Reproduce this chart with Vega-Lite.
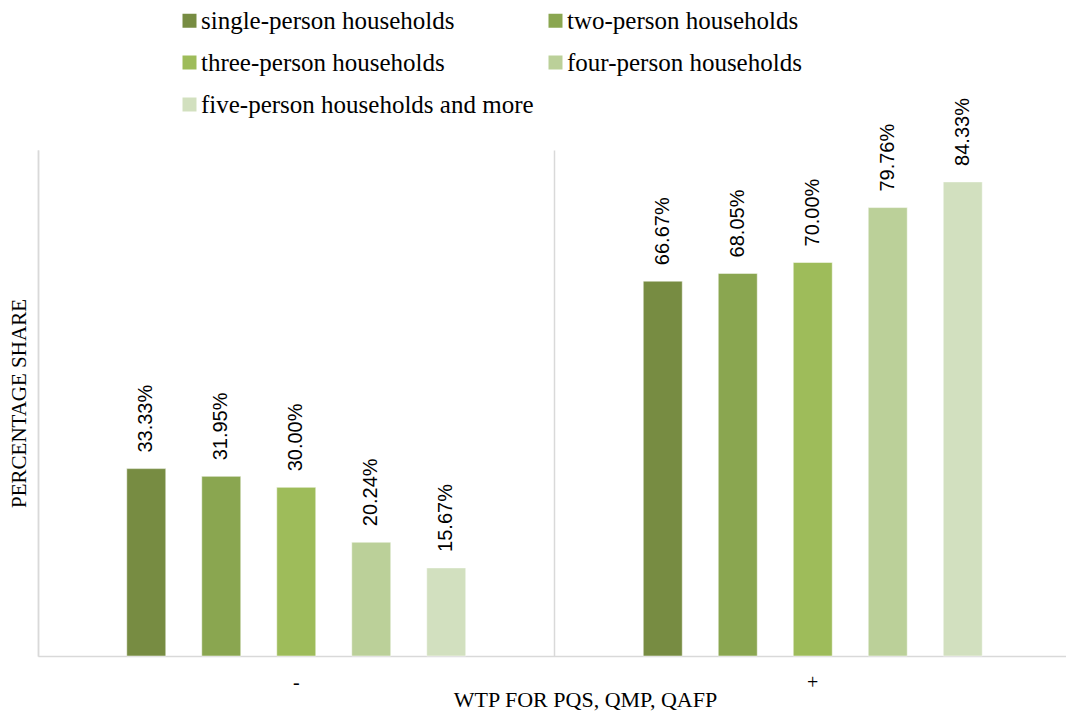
{
  "$schema": "https://vega.github.io/schema/vega-lite/v6.json",
  "autosize": {"type": "none"},
  "padding": {"left": 38, "top": 150, "right": 0, "bottom": 63},
  "width": 1033,
  "height": 506,
  "background": "white",
  "config": {
    "view": {"stroke": null},
    "font": "Liberation Serif"
  },
  "data": {
    "values": [
      {"wtp": "-", "household": "single-person households", "share": 0.3333},
      {"wtp": "-", "household": "two-person households", "share": 0.3195},
      {"wtp": "-", "household": "three-person households", "share": 0.30},
      {"wtp": "-", "household": "four-person households", "share": 0.2024},
      {"wtp": "-", "household": "five-person households and more", "share": 0.1567},
      {"wtp": "+", "household": "single-person households", "share": 0.6667},
      {"wtp": "+", "household": "two-person households", "share": 0.6805},
      {"wtp": "+", "household": "three-person households", "share": 0.70},
      {"wtp": "+", "household": "four-person households", "share": 0.7976},
      {"wtp": "+", "household": "five-person households and more", "share": 0.8433}
    ]
  },
  "encoding": {
    "x": {
      "field": "wtp", "type": "nominal", "sort": ["-", "+"],
      "scale": {"paddingInner": 0.0533, "paddingOuter": 0.02665},
      "axis": {
        "title": "WTP FOR PQS, QMP, QAFP",
        "titleFont": "Liberation Serif", "titleFontSize": 22, "titleFontWeight": "normal", "titleColor": "#000000",
        "titlePadding": -3,
        "titleX": 547,
        "labelFont": "Liberation Serif", "labelFontSize": 20, "labelColor": "#000000", "labelAngle": 0, "labelPadding": 16,
        "ticks": false,
        "domainColor": "#d9d9d9", "domainWidth": 1.5,
        "grid": true, "gridColor": "#d9d9d9", "gridWidth": 1.5, "bandPosition": -0.0281
      }
    },
    "xOffset": {
      "field": "household", "type": "nominal",
      "sort": ["single-person households", "two-person households", "three-person households", "four-person households", "five-person households and more"],
      "scale": {"paddingInner": 0.48, "paddingOuter": 1}
    },
    "y": {
      "field": "share", "type": "quantitative",
      "scale": {"domain": [0, 0.9]},
      "axis": {
        "title": "PERCENTAGE SHARE",
        "titleFont": "Liberation Serif", "titleFontSize": 21, "titleFontWeight": "normal", "titleColor": "#000000",
        "titlePadding": 9,
        "labels": false, "ticks": false, "grid": false,
        "domainColor": "#d9d9d9", "domainWidth": 1.5
      }
    }
  },
  "layer": [
    {
      "mark": {"type": "bar", "stroke": "#ffffff", "strokeWidth": 0.5},
      "encoding": {
        "color": {
          "field": "household", "type": "nominal",
          "sort": ["single-person households", "two-person households", "three-person households", "four-person households", "five-person households and more"],
          "scale": {
            "domain": ["single-person households", "two-person households", "three-person households", "four-person households", "five-person households and more"],
            "range": ["#778c42", "#8aa650", "#9ebc5a", "#bbd099", "#d2e0bf"]
          },
          "legend": {
            "title": null,
            "orient": "none",
            "legendX": 139,
            "legendY": -142,
            "direction": "horizontal",
            "columns": 2,
            "columnPadding": 9,
            "rowPadding": 16,
            "padding": 0,
            "symbolType": "square",
            "symbolSize": 196,
            "symbolStrokeWidth": 0,
            "labelFont": "Liberation Serif",
            "labelFontSize": 25,
            "labelColor": "#000000",
            "labelOffset": -1,
            "labelLimit": 500
          }
        }
      }
    },
    {
      "mark": {"type": "text", "angle": 270, "align": "left", "baseline": "middle", "dx": 16, "font": "Liberation Sans", "fontSize": 20, "color": "#000000"},
      "encoding": {
        "text": {"field": "share", "type": "quantitative", "format": ".2%"}
      }
    }
  ]
}
